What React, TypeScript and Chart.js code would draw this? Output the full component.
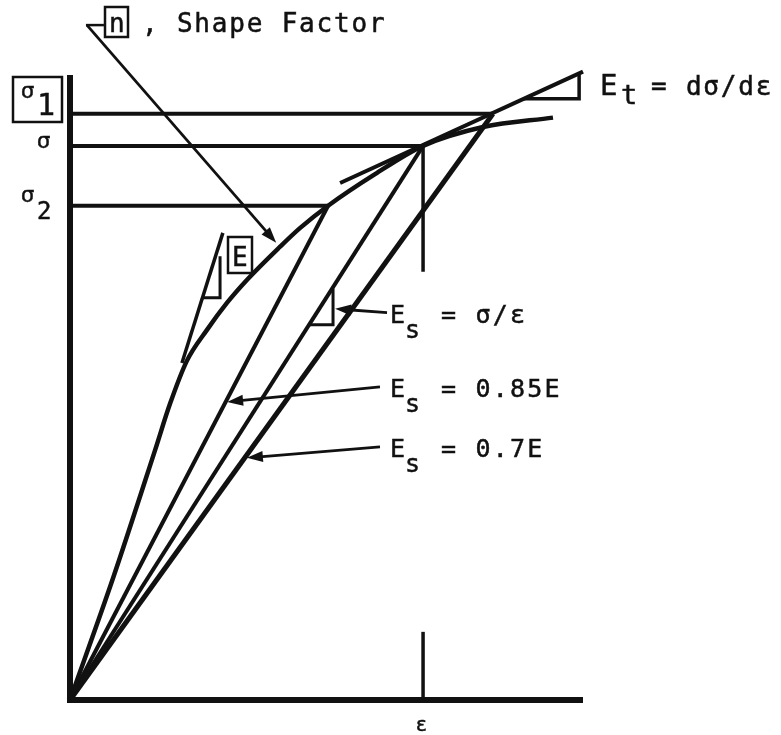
import React, { useEffect, useRef } from "react";
import { Chart, registerables } from "chart.js";

Chart.register(...registerables);

// Strain and stress are normalised so that the marked point (ε, σ) sits at (1, 1).
const STRAIN_MAX = 1.453;
const STRESS_MAX = 1.155;
const AXIS_TOP = 1.128;

// Stress–strain curve
const curveStrain = [0, 0.122, 0.241, 0.283, 0.331, 0.388, 0.445, 0.501, 0.595, 0.652, 0.731, 0.864, 1.0, 1.17, 1.368];
const curveStress = [0, 0.22, 0.451, 0.534, 0.612, 0.668, 0.717, 0.758, 0.818, 0.852, 0.892, 0.949, 1.0, 1.034, 1.051];

// Reference stress levels σ1, σ, σ2 and the strains where they are read
const levelNames = ["σ1", "σ", "σ2"];
const levelStress = [1.058, 1.0, 0.892];
const levelStrain = [1.198, 1.0, 0.731];

// Secant moduli lines from the origin (0.7E, σ/ε, 0.85E)
const secantNames = ["Es = 0.7E", "Es = σ/ε", "Es = 0.85E"];
const secantEnds = [
  [1.198, 1.058],
  [1.0, 1.0],
  [0.731, 0.892],
];
const secantWidths = [5, 4, 4];

// Tangent modulus line and its slope triangle
const tangentLine = [
  [0.765, 0.933],
  [1.453, 1.134],
];
const tangentTriangle = [
  [1.283, 1.085],
  [1.442, 1.085],
  [1.442, 1.128],
];

// Initial modulus E line and its slope triangle
const elasticLine = [
  [0.317, 0.608],
  [0.433, 0.843],
];
const elasticTriangle = [
  [0.377, 0.726],
  [0.425, 0.726],
  [0.425, 0.801],
];

// Slope triangle on the σ/ε secant
const secantTriangle = [
  [0.677, 0.677],
  [0.745, 0.677],
  [0.745, 0.742],
];

// Strain marker at ε
const strainMarkUpper = [
  [1.0, 1.0],
  [1.0, 0.773],
];
const strainMarkLower = [
  [1.0, 0.0],
  [1.0, 0.123],
];

// Leader arrows: [tailX, tailY, tipX, tipY] in data units
const arrows = [
  [0.048, 1.218, 0.584, 0.825],
  [0.898, 0.699, 0.751, 0.706],
  [0.878, 0.565, 0.445, 0.538],
  [0.878, 0.457, 0.501, 0.437],
];

const INK = "#111";
const MONO = '"DejaVu Sans Mono", "Liberation Mono", monospace';
const SANS = '"DejaVu Sans", "Liberation Sans", sans-serif';

const line = (label: string, pts: number[][], width: number, extra: any = {}) => ({
  label,
  data: pts.map(([x, y]) => ({ x, y })),
  showLine: true,
  borderColor: INK,
  backgroundColor: INK,
  borderWidth: width,
  pointRadius: 0,
  clip: false,
  tension: 0,
  borderJoinStyle: "miter",
  ...extra,
});

function buildDatasets() {
  const ds: any[] = [];
  ds.push(line("axes", [[0, AXIS_TOP], [0, 0], [STRAIN_MAX, 0]], 6));
  ds.push(
    line(
      "σ–ε curve",
      curveStrain.map((x, i) => [x, curveStress[i]]),
      4.5,
      { cubicInterpolationMode: "monotone" }
    )
  );
  levelStress.forEach((s, i) => {
    ds.push(line(levelNames[i], [[0, s], [levelStrain[i], s]], 4));
  });
  secantEnds.forEach((p, i) => {
    ds.push(line(secantNames[i], [[0, 0], p], secantWidths[i]));
  });
  ds.push(line("Et", tangentLine, 4));
  ds.push(line("Et slope", tangentTriangle, 3.5));
  ds.push(line("E", elasticLine, 3.5));
  ds.push(line("E slope", elasticTriangle, 3));
  ds.push(line("Es slope", secantTriangle, 3));
  ds.push(line("ε mark", strainMarkUpper, 3.5));
  ds.push(line("ε tick", strainMarkLower, 3.5));
  return ds;
}

function text(ctx: CanvasRenderingContext2D, s: string, x: number, y: number, size: number, family = MONO, spacing = 1.8) {
  ctx.save();
  ctx.font = `${size}px ${family}`;
  (ctx as any).letterSpacing = `${spacing}px`;
  ctx.fillStyle = INK;
  ctx.strokeStyle = INK;
  ctx.lineWidth = 0.5;
  ctx.textBaseline = "alphabetic";
  ctx.fillText(s, x, y);
  ctx.strokeText(s, x, y);
  ctx.restore();
}

function box(ctx: CanvasRenderingContext2D, x0: number, y0: number, x1: number, y1: number) {
  ctx.save();
  ctx.strokeStyle = INK;
  ctx.lineWidth = 2.5;
  ctx.strokeRect(x0, y0, x1 - x0, y1 - y0);
  ctx.restore();
}

function arrow(ctx: CanvasRenderingContext2D, x0: number, y0: number, x1: number, y1: number) {
  const ang = Math.atan2(y1 - y0, x1 - x0);
  const len = 16;
  const half = 5.5;
  ctx.save();
  ctx.strokeStyle = INK;
  ctx.fillStyle = INK;
  ctx.lineWidth = 2.8;
  ctx.beginPath();
  ctx.moveTo(x0, y0);
  ctx.lineTo(x1 - Math.cos(ang) * len * 0.8, y1 - Math.sin(ang) * len * 0.8);
  ctx.stroke();
  ctx.beginPath();
  ctx.moveTo(x1, y1);
  ctx.lineTo(x1 - Math.cos(ang) * len + Math.sin(ang) * half, y1 - Math.sin(ang) * len - Math.cos(ang) * half);
  ctx.lineTo(x1 - Math.cos(ang) * len - Math.sin(ang) * half, y1 - Math.sin(ang) * len + Math.cos(ang) * half);
  ctx.closePath();
  ctx.fill();
  ctx.restore();
}

const annotations = {
  id: "diagramNotes",
  afterDatasetsDraw(chart: any) {
    const ctx: CanvasRenderingContext2D = chart.ctx;
    const sx = chart.scales.x;
    const sy = chart.scales.y;
    const X = (v: number) => sx.getPixelForValue(v);
    const Y = (v: number) => sy.getPixelForValue(v);

    // leader arrows
    arrows.forEach(([a, b, c, d]) => arrow(ctx, X(a), Y(b), X(c), Y(d)));

    // shape factor note
    ctx.save();
    ctx.strokeStyle = INK;
    ctx.lineWidth = 2.5;
    ctx.beginPath();
    ctx.moveTo(X(arrows[0][0]) - 1, Y(arrows[0][1]));
    ctx.lineTo(X(arrows[0][0]) + 17, Y(arrows[0][1]));
    ctx.stroke();
    ctx.restore();
    box(ctx, 105, 7, 128, 37);
    text(ctx, "n", 109, 32, 26);
    text(ctx, ", Shape Factor", 142, 32, 26);

    // stress level labels on the left
    box(ctx, 13, 77, 62, 122);
    text(ctx, "σ", 21, Y(levelStress[0]) - 16, 21, SANS, 0);
    text(ctx, "1", 37, Y(levelStress[0]) + 1, 30, MONO, 0);
    text(ctx, "σ", 37, Y(levelStress[1]) + 2, 21, SANS, 0);
    text(ctx, "σ", 21, Y(levelStress[2]) - 4, 21, SANS, 0);
    text(ctx, "2", 37, Y(levelStress[2]) + 13, 24, MONO, 0);

    // E box near the initial slope
    box(ctx, 228, 237, 252, 273);
    text(ctx, "E", 232, 266, 26, MONO, 0);

    // tangent modulus label
    text(ctx, "E", 600, 95, 29, MONO, 0);
    text(ctx, "t", 621, 104, 27, MONO, 0);
    text(ctx, "= dσ/dε", 651, 95, 26);

    // secant modulus labels
    const rows: [string, number][] = [
      ["= σ/ε", 323],
      ["= 0.85E", 397],
      ["= 0.7E", 457],
    ];
    rows.forEach(([s, base]) => {
      text(ctx, "E", 390, base, 25, MONO, 0);
      text(ctx, "s", 405, base + 15, 25, MONO, 0);
      text(ctx, s, 441, base, 25, MONO, 2.2);
    });

    // strain label under the axis
    text(ctx, "ε", X(1) - 7, 731, 20, SANS, 0);
  },
};

export default function App() {
  const ref = useRef<HTMLCanvasElement>(null);
  useEffect(() => {
    const chart = new Chart(ref.current as HTMLCanvasElement, {
      type: "scatter",
      data: { datasets: buildDatasets() },
      options: {
        animation: false,
        responsive: true,
        maintainAspectRatio: false,
        events: [],
        layout: { padding: { left: 70, right: 198, top: 60, bottom: 35 } },
        scales: {
          x: { type: "linear", display: false, min: 0, max: STRAIN_MAX },
          y: { type: "linear", display: false, min: 0, max: STRESS_MAX },
        },
        plugins: {
          legend: { display: false },
          tooltip: { enabled: false },
        },
      } as any,
      plugins: [annotations],
    });
    return () => chart.destroy();
  }, []);
  return (
    <div style={{ position: "absolute", left: 0, top: 0, width: 781, height: 735, background: "#fff" }}>
      <canvas ref={ref} />
    </div>
  );
}
